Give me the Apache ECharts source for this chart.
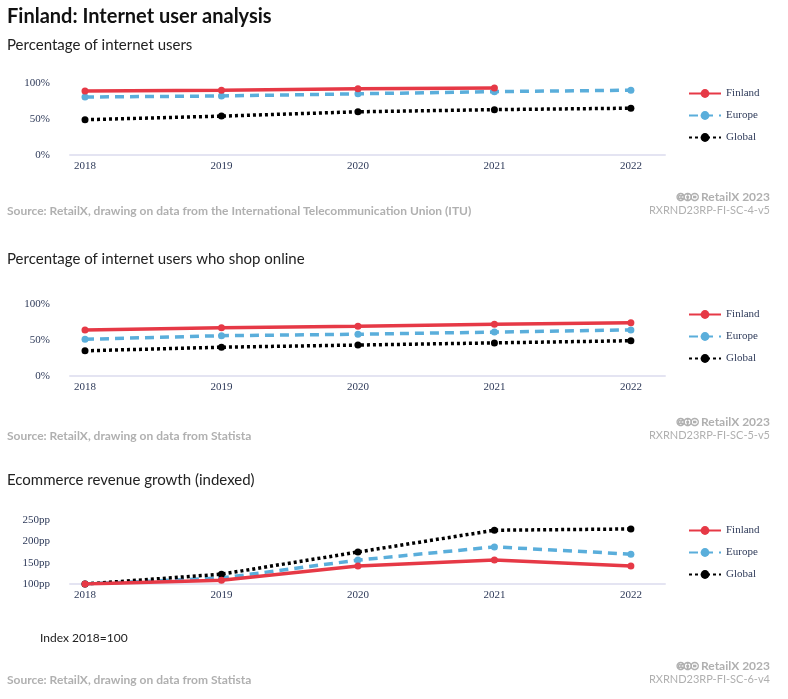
<!DOCTYPE html><html><head><meta charset="utf-8"><script src="https://cdn.jsdelivr.net/npm/echarts@6/dist/echarts.min.js"></script>
<style>body{margin:0}#c{width:788px;height:699px}</style></head><body><div id="c"></div><script>
const years=[2018,2019,2020,2021,2022];
const c1Finland=[89,90,92,93,null];
const c1Europe=[80.5,82,85,88,90];
const c1Global=[49,54,60,63,65];
const c2Finland=[64,67,69,72,74];
const c2Europe=[51,56,58,61,64];
const c2Global=[35,40,43,46,49];
const c3Finland=[100,109,142,156,142];
const c3Europe=[100,114,156,187,170];
const c3Global=[100,123,175,226,229];
const pctTicks=[0,50,100];
const ppTicks=[100,150,200,250];
const chart=echarts.init(document.getElementById('c'));
const serif='Liberation Serif';
const cols={Finland:'#e63946',Europe:'#5aaedb',Global:'#000'};
const styles={Finland:'solid',Europe:[9,6],Global:[3,3]};
const grids=[{top:83,h:72},{top:304,h:72},{top:520,h:64}];
const yCfg=[{min:0,max:100,interval:50,f:v=>v+'%'},{min:0,max:100,interval:50,f:v=>v+'%'},{min:100,max:250,interval:50,f:v=>v+'pp'}];
const data=[[c1Finland,c1Europe,c1Global],[c2Finland,c2Europe,c2Global],[c3Finland,c3Europe,c3Global]];
const names=['Finland','Europe','Global'];
const option={animation:false,grid:[],xAxis:[],yAxis:[],series:[],legend:[],title:[],graphic:[]};
grids.forEach((g,i)=>{
 option.grid.push({left:70,right:123,top:g.top,height:g.h});
 option.xAxis.push({type:'value',gridIndex:i,min:2017.89,max:2022.25,
  axisLine:{show:true,lineStyle:{color:'#e4e4f2',width:2}},axisTick:{show:false},splitLine:{show:false},
  axisLabel:{customValues:years,color:'#2e3a59',fontFamily:serif,fontSize:11,margin:6,formatter:v=>String(v)}});
 option.yAxis.push({type:'value',gridIndex:i,min:yCfg[i].min,max:yCfg[i].max,interval:yCfg[i].interval,
  axisLine:{show:false},axisTick:{show:false},splitLine:{show:false},
  axisLabel:{color:'#2e3a59',fontFamily:serif,fontSize:11,margin:20,formatter:yCfg[i].f}});
 names.forEach((n,k)=>{
  option.series.push({name:n,type:'line',xAxisIndex:i,yAxisIndex:i,data:years.map((y,j)=>[y,data[i][k][j]]),
   symbol:'circle',symbolSize:7,itemStyle:{color:cols[n]},lineStyle:{color:cols[n],width:3.5,type:styles[n]},z:n==='Finland'?3:2});
 });
 option.legend.push({orient:'vertical',left:683,top:g.top,itemGap:11,itemWidth:32,itemHeight:11,
  data:names,textStyle:{fontFamily:serif,fontSize:11,color:'#2e3a59'}});
});
const tx=(x,y,t,s,extra)=>option.graphic.push({type:'text',left:x,top:y,style:Object.assign({text:t,fontFamily:'Lato',fontSize:s,fill:'#222'},extra||{})});
tx(7,7,'Finland: Internet user analysis',20,{fontWeight:'bold',fill:'#111'});
tx(7,38,'Percentage of internet users',15);
tx(7,252,'Percentage of internet users who shop online',15);
tx(7,473,'Ecommerce revenue growth (indexed)',15);
tx(40,632,'Index 2018=100',12);
const src=['Source: RetailX, drawing on data from the International Telecommunication Union (ITU)','Source: RetailX, drawing on data from Statista','Source: RetailX, drawing on data from Statista'];
const codes=['RXRND23RP-FI-SC-4-v5','RXRND23RP-FI-SC-5-v5','RXRND23RP-FI-SC-6-v4'];
[205,430,674].forEach((y,i)=>{
 tx(7,y,src[i],12,{fill:'#b0b0b0',fontWeight:'bold'});
 option.graphic.push({type:'text',right:18,top:y,style:{text:codes[i],fontFamily:'Lato',fontSize:11,fill:'#b0b0b0'}});
 option.graphic.push({type:'text',right:18,top:y-14,style:{text:'🅭🅯⊜ RetailX 2023',fontFamily:'Lato',fontSize:12,fontWeight:'bold',fill:'#b0b0b0'}});
});
chart.setOption(option);
</script></body></html>
